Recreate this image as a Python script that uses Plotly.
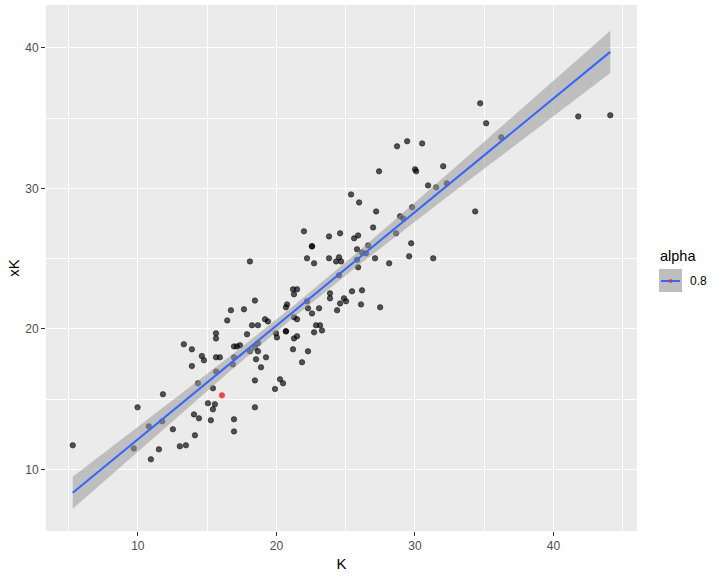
import numpy as np
import plotly.graph_objects as go

# values (K vs xK)
k_vals = [
    5.30, 9.98, 11.81, 10.79, 9.71, 11.76, 11.52, 10.94, 12.53, 14.34,
    15.42, 15.06, 15.56, 15.42, 14.05, 14.41, 15.27, 14.12, 13.03, 13.47,
    16.94, 16.94, 15.65, 13.32, 13.90, 13.90, 14.62, 14.77, 15.64, 15.64,
    15.64, 15.92, 16.45, 16.72, 17.66, 16.94, 17.15, 17.37, 16.94, 16.86,
    17.88, 18.09, 18.24, 18.67, 18.45, 18.45, 18.67, 18.67, 18.53, 18.45,
    18.45, 18.89, 19.25, 19.18, 19.39, 19.97, 20.04, 19.90, 20.26, 20.48,
    20.69, 20.69, 20.69, 20.77, 21.27, 21.49, 21.27, 21.49, 21.20, 21.85,
    22.28, 22.28, 22.57, 23.08, 22.86, 23.15, 22.72, 23.29, 24.38, 21.20,
    21.49, 21.27, 21.99, 23.80, 24.60, 25.61, 25.90, 22.57, 22.57, 18.09,
    22.21, 22.72, 23.80, 24.31, 24.52, 24.67, 25.82, 26.18, 26.47, 26.62,
    25.82, 25.90, 22.21, 23.87, 23.87, 24.60, 24.88, 25.03, 25.46, 26.18,
    26.11, 24.52, 27.49, 28.71, 29.44, 30.52, 27.41, 30.01, 30.09, 32.04,
    30.95, 31.53, 32.30, 25.39, 25.97, 27.20, 29.80, 28.93, 29.15, 26.98,
    28.64, 34.35, 29.73, 27.12, 28.14, 29.58, 31.32, 34.71, 35.14, 36.23,
    41.79, 44.10,
]
xk_vals = [
    11.71, 14.41, 15.34, 13.06, 11.49, 13.42, 11.42, 10.71, 12.85, 16.12,
    15.77, 14.70, 14.63, 14.27, 13.91, 13.63, 13.49, 12.42, 11.64, 11.71,
    13.56, 12.70, 16.96, 18.90, 18.54, 17.35, 18.06, 17.76, 19.32, 19.68,
    17.97, 17.97, 20.60, 21.32, 21.39, 18.75, 18.75, 18.83, 17.97, 17.47,
    19.61, 18.40, 20.25, 20.25, 22.01, 18.68, 18.97, 18.40, 17.83, 16.33,
    14.41, 17.26, 17.97, 20.68, 20.53, 19.68, 19.39, 15.72, 16.41, 16.12,
    19.82, 19.82, 21.53, 21.74, 20.82, 20.68, 19.32, 19.47, 18.54, 17.62,
    18.40, 21.46, 21.10, 21.46, 20.25, 20.25, 19.75, 19.89, 21.32, 22.81,
    22.81, 22.46, 26.94, 26.58, 26.80, 26.44, 26.65, 25.87, 25.87, 24.80,
    25.02, 24.66, 25.02, 24.80, 25.09, 24.80, 25.66, 25.44, 25.37, 25.94,
    24.91, 24.38, 21.96, 22.53, 22.17, 21.81, 22.17, 21.96, 22.67, 22.74,
    21.74, 23.81, 21.53, 32.99, 33.35, 33.20, 31.21, 31.35, 31.21, 31.57,
    30.21, 30.07, 30.36, 29.57, 29.00, 28.36, 28.65, 28.01, 27.86, 27.22,
    26.80, 28.36, 26.09, 25.02, 24.66, 25.16, 25.02, 36.05, 34.63, 33.63,
    35.12, 35.20,
]
k_highlight = [16.07]
xk_highlight = [15.27]

tick_vals = [10, 20, 30, 40]
legend_title = "alpha"
legend_label = "0.8"

# linear fit + 95% confidence band, like geom_smooth(method="lm")
x = np.array(k_vals + k_highlight)
y = np.array(xk_vals + xk_highlight)
n = len(x)
slope, intercept = np.polyfit(x, y, 1)
resid = y - (slope * x + intercept)
s = np.sqrt(np.sum(resid ** 2) / (n - 2))
sxx = np.sum((x - x.mean()) ** 2)
t_crit = 1.977
xs = np.linspace(x.min(), x.max(), 80)
fit = slope * xs + intercept
se = s * np.sqrt(1 / n + (xs - x.mean()) ** 2 / sxx)
lower = fit - t_crit * se
upper = fit + t_crit * se

fig = go.Figure()
fig.add_trace(go.Scatter(
    x=k_vals, y=xk_vals, mode="markers",
    marker=dict(size=5.5, color="rgba(0,0,0,0.66)",
                line=dict(width=0.6, color="rgba(0,0,0,0.75)")),
    hoverinfo="skip",
))
fig.add_trace(go.Scatter(
    x=k_highlight, y=xk_highlight, mode="markers",
    marker=dict(size=5.5, color="rgba(255,0,0,0.7)",
                line=dict(width=0.5, color="rgba(255,0,0,0.7)")),
))
fig.add_trace(go.Scatter(x=xs, y=lower, mode="lines",
                         line=dict(width=0, color="rgba(0,0,0,0)")))
fig.add_trace(go.Scatter(x=xs, y=upper, mode="lines", fill="tonexty",
                         fillcolor="rgba(153,153,153,0.55)",
                         line=dict(width=0, color="rgba(0,0,0,0)")))
fig.add_trace(go.Scatter(x=xs, y=fit, mode="lines",
                         line=dict(color="#3366FF", width=2)))

axis_common = dict(
    showgrid=True, gridcolor="white", gridwidth=1.4,
    zeroline=False, showline=False, automargin=False,
    ticks="outside", ticklen=4, tickwidth=1, tickcolor="#333333",
    tickfont=dict(family="Liberation Sans, Arial", size=12, color="#4D4D4D"),
    tickvals=tick_vals,
)

fig.update_layout(
    width=721, height=577,
    margin=dict(l=46, r=84, t=5, b=46),
    plot_bgcolor="#EBEBEB", paper_bgcolor="white",
    showlegend=False,
    font=dict(family="Liberation Sans, Arial", color="black"),
    xaxis=dict(
        axis_common, range=[3.37, 46.03],
        minor=dict(tickvals=[5, 15, 25, 35, 45], showgrid=True,
                   gridcolor="white", gridwidth=0.7, ticks=""),
        title=dict(text="K", font=dict(size=15, color="black"), standoff=6),
    ),
    yaxis=dict(
        axis_common, range=[5.61, 43.05],
        minor=dict(tickvals=[5, 15, 25, 35], showgrid=True,
                   gridcolor="white", gridwidth=0.7, ticks=""),
        title=dict(text="xK", font=dict(size=15, color="black"), standoff=1),
    ),
)

# legend drawn by hand to mimic the ggplot key
fig.add_shape(type="rect", xref="paper", yref="paper",
              x0=1.0372, x1=1.0761, y0=0.4544, y1=0.4981,
              fillcolor="#BEBEBE", line=dict(width=0))
fig.add_shape(type="line", xref="paper", yref="paper",
              x0=1.0406, x1=1.0727, y0=0.4753, y1=0.4753,
              line=dict(color="#3366FF", width=2))
fig.add_shape(type="circle", xref="paper", yref="paper",
              x0=1.0533, x1=1.0600, y0=0.4716, y1=0.4790,
              fillcolor="rgba(180,60,80,0.8)", line=dict(width=0))
fig.add_annotation(text=legend_title, xref="paper", yref="paper",
                   x=1.0355, y=0.5228, xanchor="left", yanchor="middle",
                   showarrow=False, font=dict(size=14.5, color="black"))
fig.add_annotation(text=legend_label, xref="paper", yref="paper",
                   x=1.086, y=0.4753, xanchor="left", yanchor="middle",
                   showarrow=False, font=dict(size=12, color="black"))

# the page body has a default 8px margin; drop it so the figure sits at 0,0
fig.write_html("out.html", config={"displayModeBar": False},
               post_script="document.body.style.margin='0';")
